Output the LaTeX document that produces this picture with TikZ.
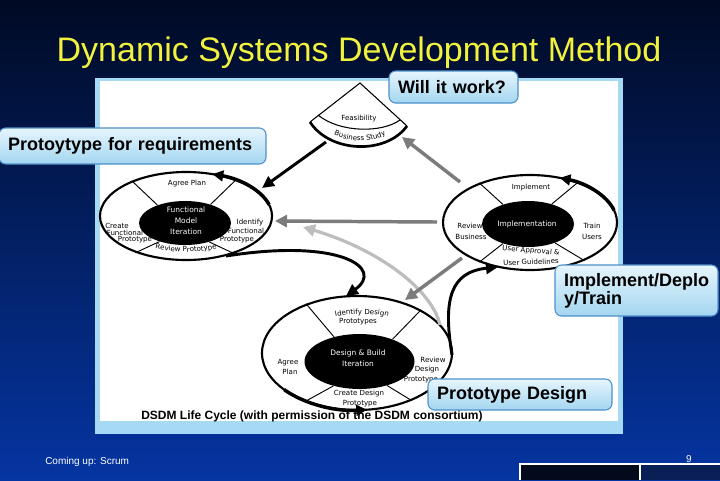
\documentclass[tikz,border=0pt]{standalone}
\usepackage{fontspec}
\setmainfont{Liberation Sans}
\newfontfamily\dv{DejaVu Sans}
\usetikzlibrary{arrows.meta,shapes.geometric,decorations.text}
\def\px{0.75pt}
\definecolor{bgtop}{HTML}{000A24}
\definecolor{bgmid}{HTML}{062A7E}
\definecolor{bgbot}{HTML}{0535A2}
\definecolor{titleyellow}{HTML}{F2F23E}
\definecolor{panelblue}{HTML}{A6DAF4}
\definecolor{calltop}{HTML}{E6F5FD}
\definecolor{callbot}{HTML}{A3D6F0}
\definecolor{callborder}{HTML}{4F8FC9}
\definecolor{arrowgray}{HTML}{7C7C7C}
\definecolor{lightarrow}{HTML}{BDBDBD}
\definecolor{footdark}{HTML}{020A1C}
\definecolor{footnavy}{HTML}{0A1F55}
\newcommand{\smallfont}{\dv\fontsize{5.3}{6}\selectfont}
\begin{document}
\begin{tikzpicture}[x=0.75pt,y=-0.75pt,
  callout/.style={draw=callborder, line width=0.8pt, rounded corners=5pt, top color=calltop, bottom color=callbot, inner sep=0pt, font=\bfseries\fontsize{13.5}{13.5}\selectfont, align=left},
  lbl/.style={font=\smallfont, inner sep=0pt},
  wlbl/.style={inner sep=0pt, text=white, font=\dv\fontsize{5.6}{8.25}\selectfont, align=center},
  outer/.style={ellipse, draw, line width=1.6pt, inner sep=0pt},
  inner/.style={ellipse, fill=black, inner sep=0pt},
  divider/.style={line width=0.7pt},
  cyclearrow/.style={line width=2.6pt, -{Triangle[length=8pt,width=8pt]}},
  blackarrow/.style={line width=2.2pt, -{Triangle[length=9pt,width=8.5pt]}},
  grayarrow/.style={line width=2.6pt, draw=arrowgray, -{Triangle[length=9pt,width=9pt]}},
  lightgrayarrow/.style={line width=2.4pt, draw=lightarrow, -{Triangle[length=9pt,width=9pt]}},
  plain/.style={inner sep=0pt}
]
\useasboundingbox (0,0) rectangle (720,480);
% background
\shade[top color=bgtop, middle color=bgmid, bottom color=bgbot] (0,0) rectangle (720,480);
% title
\node[plain, text=titleyellow, font=\fontsize{25.5}{30}\selectfont, anchor=base] (title) at (359,61) {Dynamic Systems Development Method};
% panel
\fill[panelblue] (95,78) rectangle (623,434);
\fill[white] (100,81) rectangle (618,421);

% ---- feasibility fan ----
\coordinate (apex) at (360,83);
\draw[line width=0.8pt] (310,122) -- (apex) -- (407,126);
\draw[line width=0.8pt] (318,115) .. controls (340,133) and (382,133) .. (400,120);
\draw[line width=2pt] (310,122) .. controls (330,153) and (386,155) .. (407,126);
\node[lbl] (feas) at (359,119) {Feasibility};
\path[decorate, decoration={text along path, text={|\smallfont|Business Study}, text align=center}]
  (325.6,130) arc[start angle=125, end angle=55, radius=60];

% ---- functional model iteration (left) ----
\node[outer, minimum width=172*\px, minimum height=88*\px] (fmo) at (186,216) {};
\node[inner, minimum width=92*\px, minimum height=44*\px] (fmi) at (185,223) {};
\foreach \a in {147,36,216,322} \draw[divider] (fmi.\a) -- (fmo.\a);
\draw[cyclearrow] ([shift={(-15:86 and 44)}]fmo.center) arc[start angle=-15, end angle=-72, x radius=86, y radius=44];
\node[lbl] (lap) at (187,184) {Agree Plan};
\node[wlbl] (lfm) at (186,221) {Functional\\Model\\Iteration};
\node[lbl] (lc1) at (117,226) {Create};
\node[lbl] (lc2) at (125,233) {Functional};
\node[lbl] (lc3) at (135,240) {Prototype};
\node[lbl] (li1) at (250,223) {Identify};
\node[lbl] (li2) at (246,231) {Functional};
\node[lbl] (li3) at (237,240) {Prototype};
\path[decorate, decoration={text along path, text={|\smallfont|Review Prototype}, text align=center}]
  ([shift={(130:74 and 36)}]fmo.center) arc[start angle=130, end angle=50, x radius=74, y radius=36];

% ---- implementation (right) ----
\node[outer, minimum width=174*\px, minimum height=95*\px] (impo) at (530,222.5) {};
\node[inner, minimum width=92*\px, minimum height=46*\px] (impi) at (528,224) {};
\foreach \a in {142,40,218,325} \draw[divider] (impi.\a) -- (impo.\a);
\draw[cyclearrow] ([shift={(-15:87 and 47.5)}]impo.center) arc[start angle=-15, end angle=-70, x radius=87, y radius=47.5];
\node[lbl] (rim) at (531,187.5) {Implement};
\node[wlbl] (rimp) at (527,224) {Implementation};
\node[lbl] (rr1) at (470,226) {Review};
\node[lbl] (rr2) at (471,236.5) {Business};
\node[lbl] (rt1) at (592,226) {Train};
\node[lbl] (rt2) at (592,236.5) {Users};
\node[lbl, rotate=-5] (ru1) at (531,251) {User Approval \&};
\node[lbl, rotate=2] (ru2) at (531,262) {User Guidelines};

% ---- design & build (bottom) ----
\node[outer, minimum width=190*\px, minimum height=114*\px] (dbo) at (357,353) {};
\node[inner, minimum width=110*\px, minimum height=55*\px] (dbi) at (359.5,361.5) {};
\foreach \a in {136,34,223,319} \draw[divider] (dbi.\a) -- (dbo.\a);
\path[decorate, decoration={text along path, text={|\smallfont|Identify Design}, text align=center}]
  (362,353) ++(232:72 and 39) arc[start angle=232, end angle=308, x radius=72, y radius=39];
\node[lbl] (bp) at (358,322) {Prototypes};
\node[wlbl] (bdb) at (358,358) {Design \& Build\\Iteration};
\node[lbl] (ba1) at (288,363) {Agree};
\node[lbl] (ba2) at (290,372) {Plan};
\node[lbl] (br1) at (433,360) {Review};
\node[lbl] (br2) at (427,369.5) {Design};
\node[lbl] (br3) at (421,380) {Prototype};
\node[lbl] (bc1) at (359,394) {Create Design};
\node[lbl] (bc2) at (360,404) {Prototype};

% caption
\node[plain, font=\bfseries\fontsize{9}{10}\selectfont, anchor=west] (cap) at (141,416) {DSDM Life Cycle (with permission of the DSDM consortium)};
\draw[cyclearrow] ([shift={(140:95 and 57)}]dbo.center) arc[start angle=140, end angle=84, x radius=95, y radius=57];

% ---- connectors ----
\coordinate (aS) at (437,222); \coordinate (aE) at (275,221);
\coordinate (bS) at (440,325); \coordinate (bE) at (303,227);
\coordinate (cS) at (462,258); \coordinate (cE) at (405,300);
\coordinate (dS) at (460,182); \coordinate (dE) at (402,137);
\coordinate (eS) at (326,142); \coordinate (eE) at (262,188);
\coordinate (fS) at (226,256); \coordinate (fE) at (346,296);
\coordinate (gS) at (452,355); \coordinate (gE) at (498,267);
\draw[grayarrow] (aS) -- (aE);
\draw[lightgrayarrow] (bS) .. controls (432,290) and (380,250) .. (bE);
\draw[grayarrow] (cS) -- (cE);
\draw[grayarrow] (dS) -- (dE);
\draw[blackarrow] (eS) -- (eE);
\draw[blackarrow] (fS) .. controls (340,238) and (385,268) .. (fE);
\draw[blackarrow] (gS) .. controls (443,300) and (450,272) .. (gE);

% ---- callouts ----
\node[callout, minimum width=129*\px, minimum height=32*\px, text width=111*\px] (c1) at (453.5,87) {Will it work?};
\node[callout, minimum width=267*\px, minimum height=36*\px, text width=249*\px] (c2) at (132.5,146) {Protoytype for requirements};
\node[callout, minimum width=163*\px, minimum height=51*\px, text width=145*\px] (c3) at (636.5,290.5) {Implement/Deplo\\y/Train};
\node[callout, minimum width=184*\px, minimum height=31*\px, text width=166*\px] (c4) at (520,394.5) {Prototype Design};

% ---- footer ----
\node[plain, text=white, font=\fontsize{7.5}{9}\selectfont, anchor=west] (next) at (45,462) {Coming up: Scrum};
\node[plain, text=white, font=\fontsize{7.5}{9}\selectfont] (pg) at (689,459) {9};
\fill[footdark] (520,464) rectangle (640,480);
\fill[footnavy] (640,464) rectangle (720,480);
\draw[white, line width=1pt] (520,480) -- (520,464) -- (720,464);
\draw[white, line width=1pt] (640,464) -- (640,480);
\end{tikzpicture}
\end{document}
